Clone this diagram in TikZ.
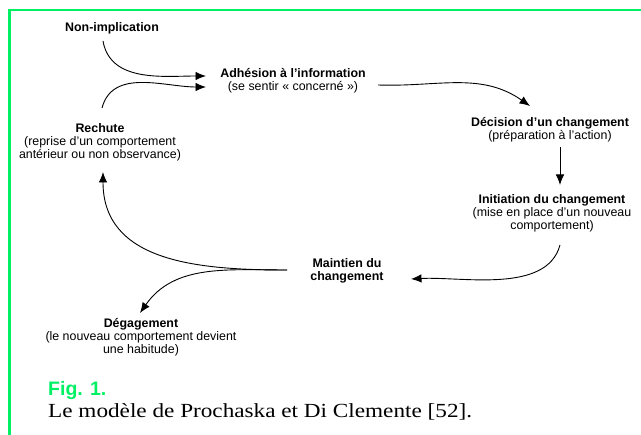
\documentclass[tikz,border=0pt]{standalone}
\usepackage{fontspec}
\setmainfont{Liberation Sans}
\newfontfamily\legende[FakeStretch=1.16]{Liberation Serif}
\usetikzlibrary{arrows.meta}
\definecolor{vertfig}{RGB}{0,240,100}

\begin{document}
\begin{tikzpicture}[x=1pt, y=1pt,
  etape/.style={align=center, inner sep=0pt, font=\fontsize{12.4}{13}\selectfont},
  fleche/.style={line width=0.9pt, -{Latex[length=10.5pt,width=8.5pt]}}]
\useasboundingbox (0,0) rectangle (641,-435);

% cadre
\draw[vertfig, line width=2.3pt] (9.5,-435) -- (9.5,-10) -- (641,-10);

% etapes
\node[etape] (nonimpl) at (112,-28) {\textbf{Non-implication}};
\node[etape] (adhesion) at (293,-80.5) {\textbf{Adhésion à l’information}\\(se sentir « concerné »)};
\node[etape] (decision) at (550,-129.5) {\textbf{Décision d’un changement}\\(préparation à l’action)};
\node[etape] (initiation) at (552,-213.5) {\textbf{Initiation du changement}\\(mise en place d’un nouveau\\comportement)};
\node[etape] (maintien) at (347,-270.5) {\textbf{Maintien du}\\\textbf{changement}};
\node[etape] (rechute) at (100,-142) {\textbf{Rechute}\\(reprise d’un comportement\\antérieur ou non observance)};
\node[etape] (degagement) at (141,-337) {\textbf{Dégagement}\\(le nouveau comportement devient\\une habitude)};

% fleches
\draw[fleche] ([shift={(-9,-13)}]nonimpl.center) to[out=-80,in=180] ([shift={(-87,4.5)}]adhesion.center);
\draw[fleche] ([shift={(2,34)}]rechute.center) to[out=75,in=180] ([shift={(-87,-6.5)}]adhesion.center);
\draw[fleche] ([shift={(85,-4.5)}]adhesion.center) to[out=-2,in=145] ([shift={(-20,23.5)}]decision.center);
\draw[fleche] ([shift={(10,-17.5)}]decision.center) -- ([shift={(8,28.5)}]initiation.center);
\draw[fleche] ([shift={(8,-31.5)}]initiation.center) to[out=-105,in=3,looseness=0.85] ([shift={(64,-8.5)}]maintien.center);
\draw[fleche] ([shift={(-60,0.5)}]maintien.center) to[out=180,in=-90,looseness=1.1] ([shift={(3,-30)}]rechute.center);
\draw[fleche] ([shift={(-60,0.5)}]maintien.center) to[out=180,in=55] ([shift={(-1,24)}]degagement.center);

% legende
\node[anchor=base west, inner sep=0pt, text=vertfig, font=\fontsize{19.5}{22}\selectfont\bfseries] (fig) at (48,-396) {Fig. 1.};
\node[anchor=base west, inner sep=0pt, font=\fontsize{20}{24}\legende] (titre) at (48,-418) {Le modèle de Prochaska et Di Clemente [52].};

\end{tikzpicture}
\end{document}
